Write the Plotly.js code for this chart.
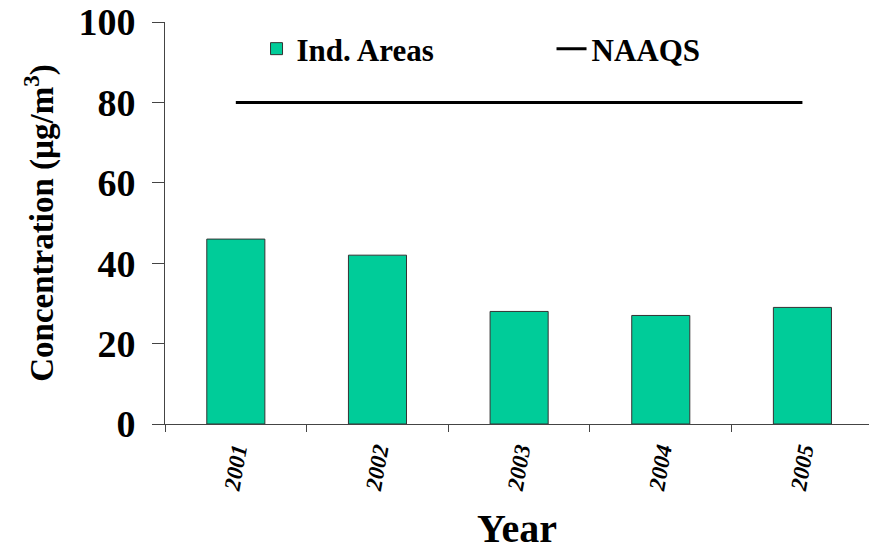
<!DOCTYPE html>
<html>
<head>
<meta charset="utf-8">
<script src="https://cdn.plot.ly/plotly-3.0.1.min.js"></script>
<style>html,body{margin:0;padding:0;background:#fff;}#chart{width:869px;height:551px;}</style>
</head>
<body>
<div id="chart"></div>
<script>
const years = ['2001', '2002', '2003', '2004', '2005'];
const indAreas = [46, 42, 28, 27, 29];
const naaqs = [80, 80, 80, 80, 80];
const yTicks = [0, 20, 40, 60, 80, 100];

const serif = 'Liberation Serif';

const traces = [
  {
    type: 'bar', name: '<b>Ind. Areas</b>', x: years, y: indAreas,
    marker: {color: '#00CC99', line: {color: '#333333', width: 1}},
    width: 0.41
  },
  {
    type: 'scatter', mode: 'lines', name: '<b>NAAQS</b>', x: years, y: naaqs,
    line: {color: '#000000', width: 3}
  }
];

const layout = {
  width: 869, height: 551,
  margin: {l: 165, r: 0, t: 22, b: 127},
  paper_bgcolor: '#ffffff', plot_bgcolor: '#ffffff',
  font: {family: serif, color: '#000000'},
  showlegend: true,
  legend: {
    orientation: 'h', x: 0.13, xanchor: 'left', y: 1.0, yanchor: 'top',
    font: {family: serif, size: 31, color: '#000'},
    entrywidth: 250, bgcolor: 'rgba(0,0,0,0)'
  },
  xaxis: {
    type: 'category', range: [-0.5, 4.47],
    showline: true, linecolor: '#444444', linewidth: 1,
    ticks: 'outside', ticklen: 7, tickcolor: '#444444', tickson: 'boundaries',
    tickangle: -80, ticklabelstandoff: 3,
    tickfont: {family: serif, size: 23, weight: 'bold', style: 'italic', color: '#000'},
    showgrid: false, zeroline: false,
    title: {text: '<b>Year</b>', font: {family: serif, size: 40, color: '#000'}, standoff: 30}
  },
  yaxis: {
    range: [0, 100], tickvals: yTicks,
    showline: true, linecolor: '#444444', linewidth: 1,
    ticks: 'outside', ticklen: 12, tickcolor: '#444444', ticklabelstandoff: 9,
    tickfont: {family: serif, size: 38, weight: 'bold', color: '#000'},
    showgrid: false, zeroline: false,
    title: {text: '<b>Concentration (µg/m<sup>3</sup>)</b>', font: {family: serif, size: 33, color: '#000'}, standoff: 14}
  },
  bargap: 0.59
};

Plotly.newPlot('chart', traces, layout, {displayModeBar: false, staticPlot: true});
</script>
</body>
</html>
